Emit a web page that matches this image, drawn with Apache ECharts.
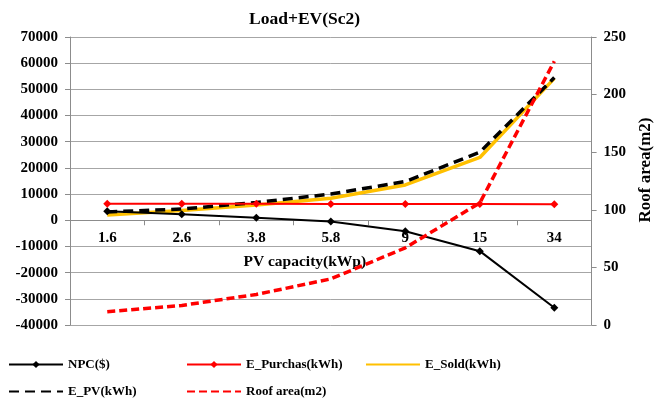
<!DOCTYPE html>
<html>
<head>
<meta charset="utf-8">
<script src="https://cdn.jsdelivr.net/npm/echarts@6/dist/echarts.min.js"></script>
<style>html,body{margin:0;padding:0;background:#fff;}#c{width:662px;height:399px;}</style>
</head>
<body>
<div id="c"></div>
<script>
var categories = ['1.6', '2.6', '3.8', '5.8', '9', '15', '34'];
var npc = [3400, 2300, 1000, -500, -4200, -11800, -33400];
var ePurchas = [6300, 6300, 6300, 6250, 6250, 6250, 6100];
var eSold = [2000, 3700, 5800, 8400, 13500, 24000, 54200];
var ePV = [3200, 4300, 6800, 10000, 14800, 26000, 54500];
var roofArea = [11.5, 17, 26.5, 40, 67, 106, 229];
var leftTicks = {min: -40000, max: 70000, interval: 10000};
var rightTicks = {min: 0, max: 250, interval: 50};

var FONT = '"Liberation Serif", "Times New Roman", serif';
var txt = {fontFamily: FONT, fontWeight: 'bold', fontSize: 15, color: '#000'};
var legTxt = {fontFamily: FONT, fontWeight: 'bold', fontSize: 13, color: '#000'};
var W = 662, H = 399;
var gridTop = 37, gridBottom = 74;
var plotH = H - gridTop - gridBottom;
// place the category axis at value 0 of the left axis (labels next to it)
var zeroOffset = -plotH * (0 - leftTicks.min) / (leftTicks.max - leftTicks.min);

var chart = echarts.init(document.getElementById('c'), null, {renderer: 'canvas'});
function leg(name, left, top, noMarker) {
  var o = {orient: 'horizontal', left: left, top: top, padding: 0, itemWidth: 54, itemHeight: 9,
          itemGap: 0, textStyle: legTxt, data: [name]};
  if (noMarker) { o.itemStyle = {opacity: 0}; }
  return o;
}
chart.setOption({
  animation: false,
  backgroundColor: '#fff',
  title: {text: 'Load+EV(Sc2)', left: 249, top: 10, padding: 0,
          textStyle: {fontFamily: FONT, fontWeight: 'bold', fontSize: 17.5, color: '#000'}},
  grid: {left: 70, right: 62, top: gridTop, bottom: gridBottom, containLabel: false},
  legend: [
    leg('NPC($)', 8, 358, false),
    leg('E_Purchas(kWh)', 186, 358, false),
    leg('E_Sold(kWh)', 365, 358, true),
    leg('E_PV(kWh)', 8, 385, true),
    leg('Roof area(m2)', 186, 385, true)
  ],
  xAxis: {
    type: 'category', data: categories, boundaryGap: true, position: 'bottom', offset: zeroOffset,
    name: 'PV capacity(kWp)', nameLocation: 'middle', nameGap: 34,
    nameTextStyle: Object.assign({}, txt, {fontSize: 15.5, padding: [0, 52, 0, 0]}),
    axisLine: {onZero: false, lineStyle: {color: '#8c8c8c', width: 1}},
    axisTick: {show: true, alignWithLabel: false, length: 5, lineStyle: {color: '#8c8c8c'}},
    axisLabel: Object.assign({}, txt, {margin: 10}),
    splitLine: {show: false}
  },
  yAxis: [
    {
      type: 'value', min: leftTicks.min, max: leftTicks.max, interval: leftTicks.interval,
      axisLine: {show: true, lineStyle: {color: '#8c8c8c'}},
      axisTick: {show: true, length: 5, lineStyle: {color: '#8c8c8c'}},
      axisLabel: Object.assign({}, txt, {margin: 12, formatter: function (v) { return String(v); }}),
      splitLine: {show: true, lineStyle: {color: '#a6a6a6', width: 1}}
    },
    {
      type: 'value', position: 'right', min: rightTicks.min, max: rightTicks.max, interval: rightTicks.interval,
      name: 'Roof area(m2)', nameLocation: 'middle', nameRotate: 90, nameGap: 37,
      nameTextStyle: Object.assign({}, txt, {fontSize: 17, padding: [0, 0, 0, 22]}),
      axisLine: {show: true, lineStyle: {color: '#8c8c8c'}},
      axisTick: {show: true, length: 5, lineStyle: {color: '#8c8c8c'}},
      axisLabel: Object.assign({}, txt, {margin: 12, formatter: function (v) { return String(v); }}),
      splitLine: {show: false}
    }
  ],
  series: [
    {name: 'E_Sold(kWh)', type: 'line', data: eSold, yAxisIndex: 0, symbol: 'none', z: 2,
     lineStyle: {color: '#FFC000', width: 3.5}, itemStyle: {color: '#FFC000'}},
    {name: 'E_PV(kWh)', type: 'line', data: ePV, yAxisIndex: 0, symbol: 'none', z: 3,
     lineStyle: {color: '#000', width: 3.5, type: [10, 6]}, itemStyle: {color: '#000'}},
    {name: 'NPC($)', type: 'line', data: npc, yAxisIndex: 0, symbol: 'diamond', symbolSize: 8, z: 4,
     lineStyle: {color: '#000', width: 2}, itemStyle: {color: '#000'}},
    {name: 'E_Purchas(kWh)', type: 'line', data: ePurchas, yAxisIndex: 0, symbol: 'diamond', symbolSize: 8, z: 4,
     lineStyle: {color: '#FF0000', width: 2}, itemStyle: {color: '#FF0000'}},
    {name: 'Roof area(m2)', type: 'line', data: roofArea, yAxisIndex: 1, symbol: 'none', z: 5,
     lineStyle: {color: '#FF0000', width: 3.5, type: [8, 4]}, itemStyle: {color: '#FF0000'}}
  ]
});
</script>
</body>
</html>
